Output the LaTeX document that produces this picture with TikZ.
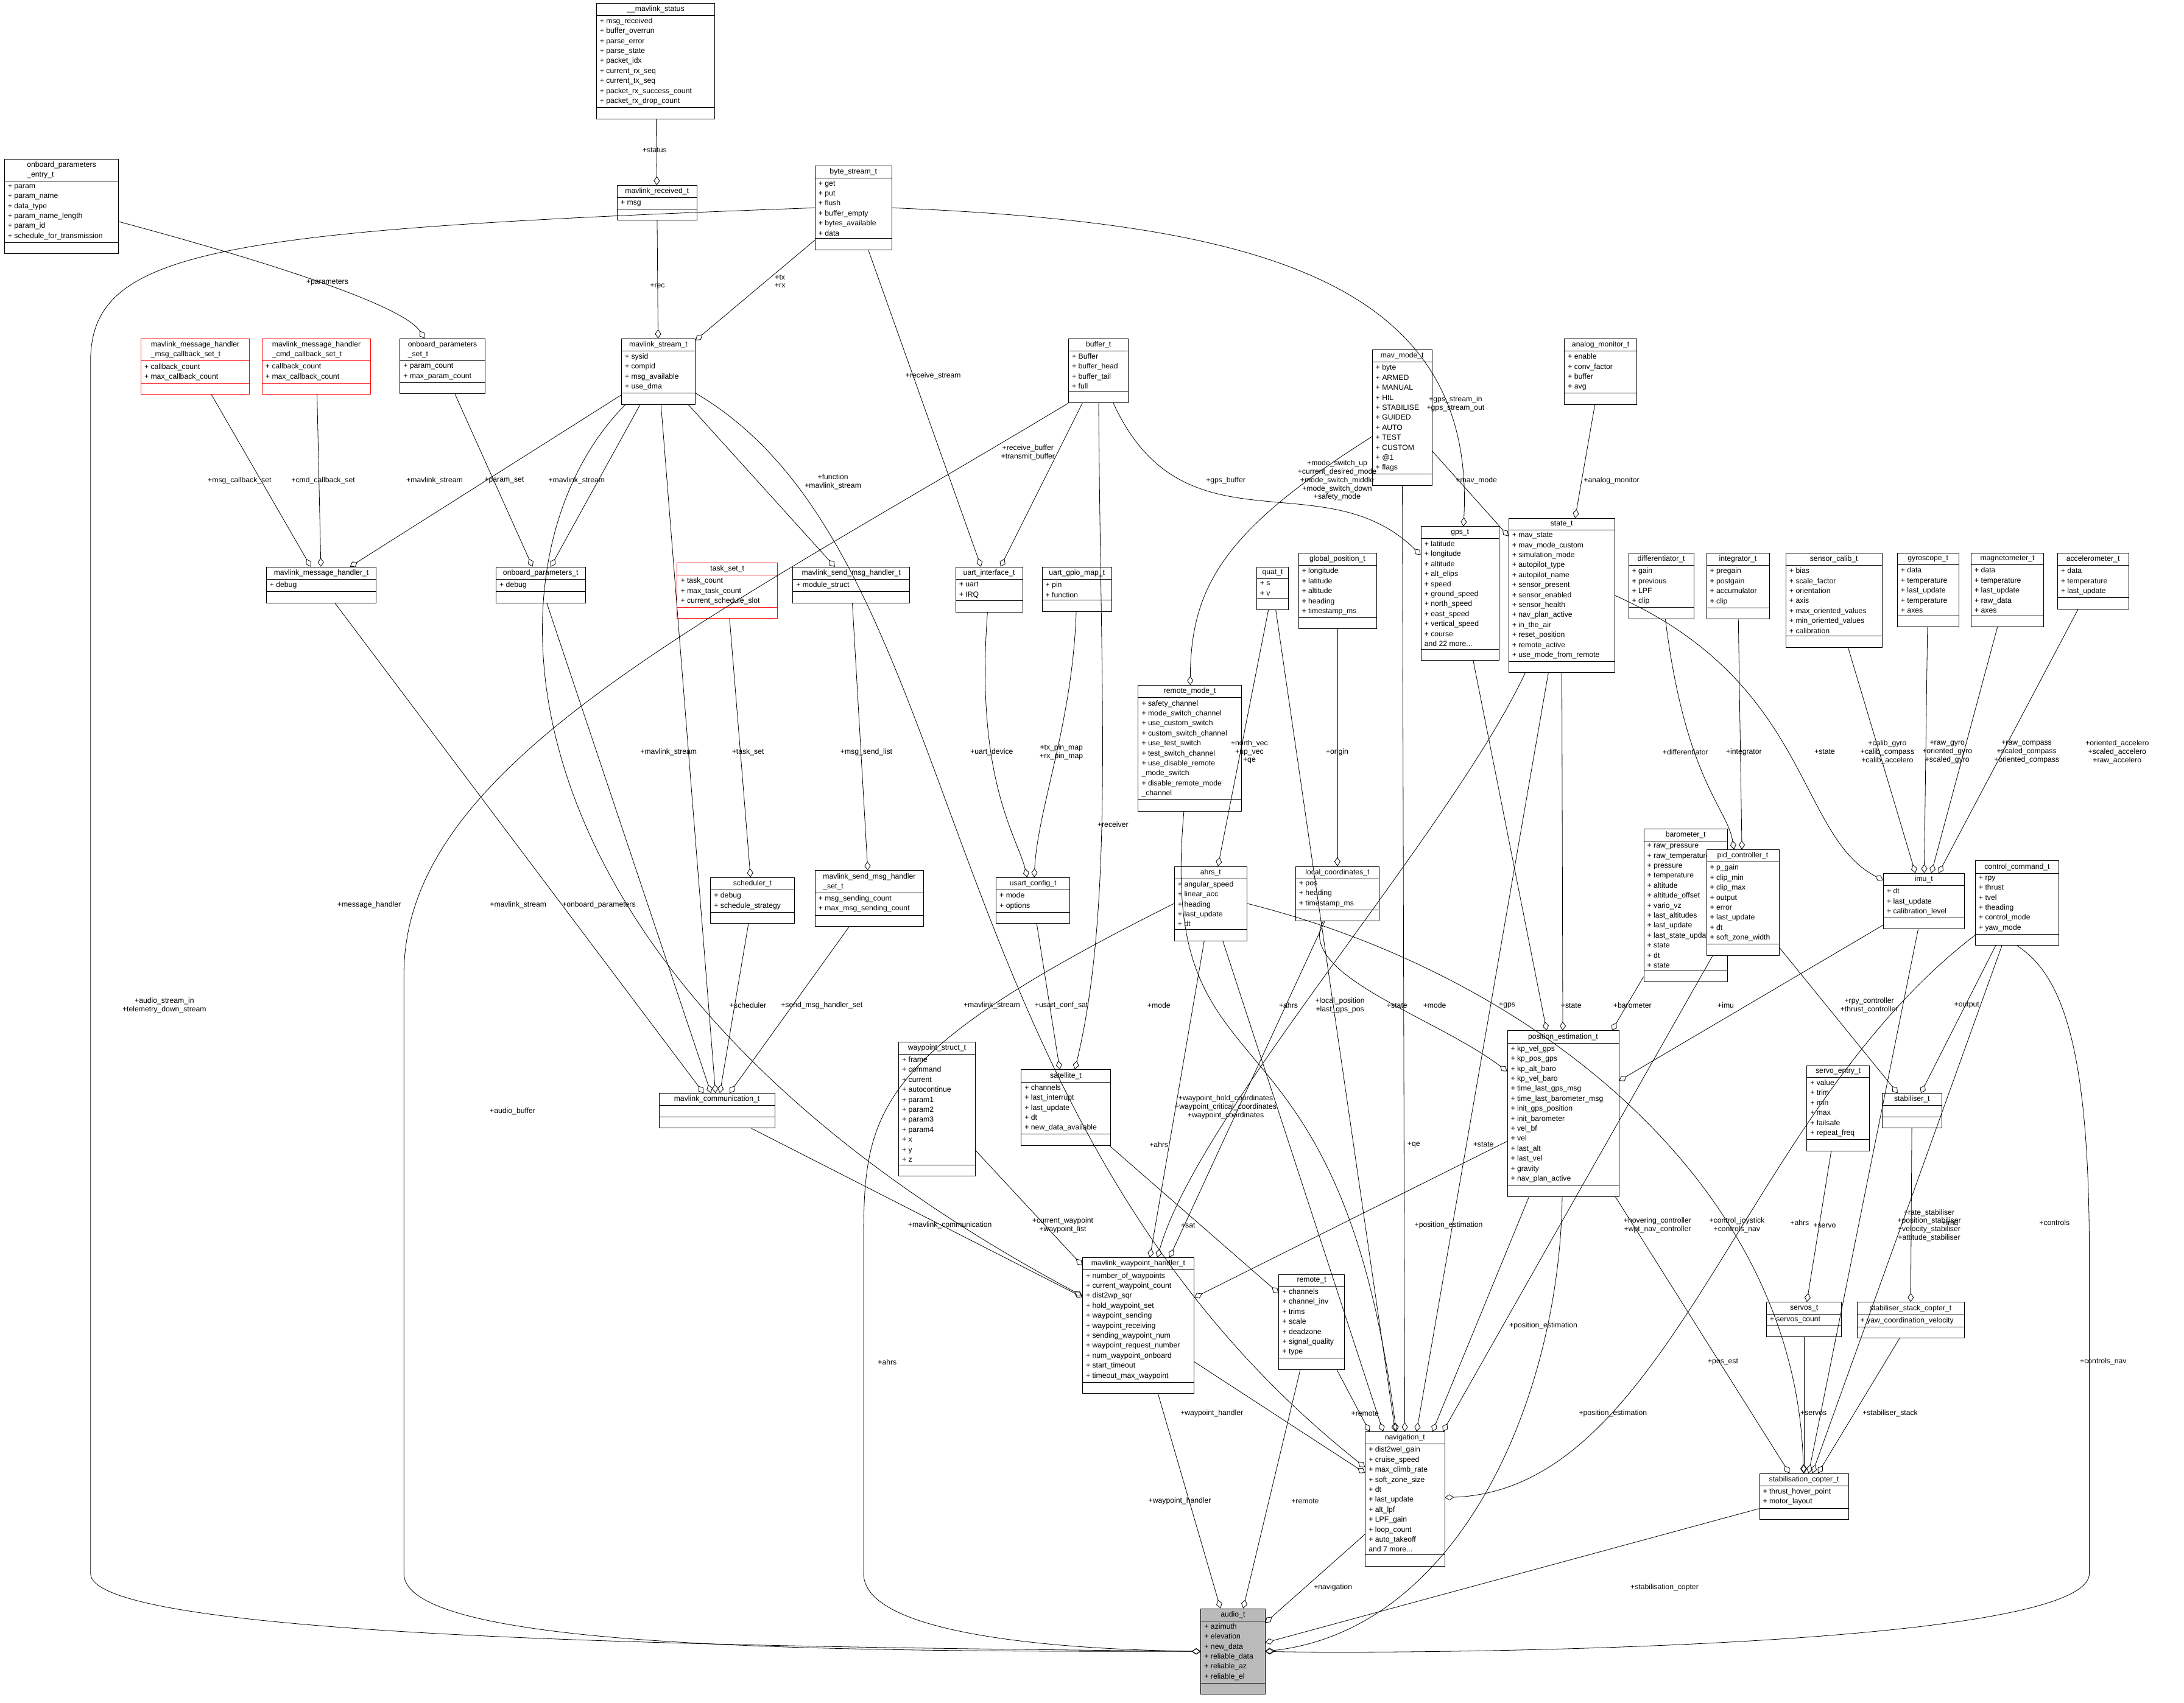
\documentclass[tikz,border=0pt]{standalone}
\usepackage{fontspec}
\setmainfont{Liberation Sans}
\usetikzlibrary{shapes.multipart,arrows.meta}
\AtBeginDocument{\catcode`\_=12}
\begin{document}
\begin{tikzpicture}[x=0.5mm,y=-0.5mm,
 cls/.style={draw=black,fill=white,rectangle split,rectangle split parts=3,anchor=north west,
   align=left,rectangle split part align={center,left,left},inner xsep=3.5pt,inner ysep=2.5pt,
   rectangle split empty part height=6pt,font=\fontsize{7.6pt}{10.2pt}\selectfont,line width=0.5pt},
 lbl/.style={align=center,font=\fontsize{7.6pt}{8.6pt}\selectfont,inner sep=0pt},
 as/.style={line width=0.5pt,-{Diamond[open,length=3.2mm,width=2.2mm]}}]
\useasboundingbox (0,0) rectangle (1568,1222.6);
\newcommand\cls[7][]{\node[cls,#1,minimum width=#5*0.5mm] (#2) at (#3,#4) {#6\nodepart{two}#7\nodepart{three}};}
% nodes
\cls{mst}{428}{2}{85}{__mavlink_status}{+ msg_received\\+ buffer_overrun\\+ parse_error\\+ parse_state\\+ packet_idx\\+ current_rx_seq\\+ current_tx_seq\\+ packet_rx_success_count\\+ packet_rx_drop_count}
\cls{mrec}{443}{133}{57}{mavlink_received_t}{+ msg}
\cls{ope}{3}{114}{82}{onboard_parameters\\_entry_t}{+ param\\+ param_name\\+ data_type\\+ param_name_length\\+ param_id\\+ schedule_for_transmission}
\cls{bst}{585}{119}{55}{byte_stream_t}{+ get\\+ put\\+ flush\\+ buffer_empty\\+ bytes_available\\+ data}
\cls{mstr}{446}{243}{53}{mavlink_stream_t}{+ sysid\\+ compid\\+ msg_available\\+ use_dma}
\cls[draw=red]{mcb}{101}{243}{78}{mavlink_message_handler\\_msg_callback_set_t}{+ callback_count\\+ max_callback_count}
\cls[draw=red]{ccb}{188}{243}{78}{mavlink_message_handler\\_cmd_callback_set_t}{+ callback_count\\+ max_callback_count}
\cls{ops}{287}{243}{61}{onboard_parameters\\_set_t}{+ param_count\\+ max_param_count}
\cls{buf}{767}{243}{43}{buffer_t}{+ Buffer\\+ buffer_head\\+ buffer_tail\\+ full}
\cls{mmode}{985}{251}{43}{mav_mode_t}{+ byte\\+ ARMED\\+ MANUAL\\+ HIL\\+ STABILISE\\+ GUIDED\\+ AUTO\\+ TEST\\+ CUSTOM\\+ @1\\+ flags}
\cls{anm}{1123}{243}{52}{analog_monitor_t}{+ enable\\+ conv_factor\\+ buffer\\+ avg}
\cls{mmh}{191}{407}{79}{mavlink_message_handler_t}{+ debug}
\cls{opt}{356}{407}{64}{onboard_parameters_t}{+ debug}
\cls[draw=red]{tset}{486}{404}{72}{task_set_t}{+ task_count\\+ max_task_count\\+ current_schedule_slot}
\cls{msmh}{569}{407}{84}{mavlink_send_msg_handler_t}{+ module_struct}
\cls{uif}{686}{407}{48}{uart_interface_t}{+ uart\\+ IRQ}
\cls{ugm}{748}{407}{50}{uart_gpio_map_t}{+ pin\\+ function}
\cls{quat}{902}{407}{23}{quat_t}{+ s\\+ v}
\cls{gpos}{932}{397}{56}{global_position_t}{+ longitude\\+ latitude\\+ altitude\\+ heading\\+ timestamp_ms}
\cls{gps}{1020}{378}{56}{gps_t}{+ latitude\\+ longitude\\+ altitude\\+ alt_elips\\+ speed\\+ ground_speed\\+ north_speed\\+ east_speed\\+ vertical_speed\\+ course\\and 22 more...}
\cls{state}{1083}{372}{76}{state_t}{+ mav_state\\+ mav_mode_custom\\+ simulation_mode\\+ autopilot_type\\+ autopilot_name\\+ sensor_present\\+ sensor_enabled\\+ sensor_health\\+ nav_plan_active\\+ in_the_air\\+ reset_position\\+ remote_active\\+ use_mode_from_remote}
\cls{diff}{1169}{397}{47}{differentiator_t}{+ gain\\+ previous\\+ LPF\\+ clip}
\cls{integ}{1225}{397}{45}{integrator_t}{+ pregain\\+ postgain\\+ accumulator\\+ clip}
\cls{scal}{1282}{397}{69}{sensor_calib_t}{+ bias\\+ scale_factor\\+ orientation\\+ axis\\+ max_oriented_values\\+ min_oriented_values\\+ calibration}
\cls{gyro}{1362}{397}{44}{gyroscope_t}{+ data\\+ temperature\\+ last_update\\+ temperature\\+ axes}
\cls{mag}{1415}{397}{52}{magnetometer_t}{+ data\\+ temperature\\+ last_update\\+ raw_data\\+ axes}
\cls{acc}{1477}{397}{51}{accelerometer_t}{+ data\\+ temperature\\+ last_update}
\cls{rmode}{817}{492}{74}{remote_mode_t}{+ safety_channel\\+ mode_switch_channel\\+ use_custom_switch\\+ custom_switch_channel\\+ use_test_switch\\+ test_switch_channel\\+ use_disable_remote\\_mode_switch\\+ disable_remote_mode\\_channel}
\cls{baro}{1180}{595}{60}{barometer_t}{+ raw_pressure\\+ raw_temperature\\+ pressure\\+ temperature\\+ altitude\\+ altitude_offset\\+ vario_vz\\+ last_altitudes\\+ last_update\\+ last_state_update\\+ state\\+ dt\\+ state}
\cls{sched}{510}{630}{60}{scheduler_t}{+ debug\\+ schedule_strategy}
\cls{msms}{585}{625}{78}{mavlink_send_msg_handler\\_set_t}{+ msg_sending_count\\+ max_msg_sending_count}
\cls{usart}{715}{630}{53}{usart_config_t}{+ mode\\+ options}
\cls{ahrs}{843}{622}{52}{ahrs_t}{+ angular_speed\\+ linear_acc\\+ heading\\+ last_update\\+ dt}
\cls{lcoord}{930}{622}{60}{local_coordinates_t}{+ pos\\+ heading\\+ timestamp_ms}
\cls{pid}{1225}{610}{52}{pid_controller_t}{+ p_gain\\+ clip_min\\+ clip_max\\+ output\\+ error\\+ last_update\\+ dt\\+ soft_zone_width}
\cls{imu}{1352}{627}{58}{imu_t}{+ dt\\+ last_update\\+ calibration_level}
\cls{ccmd}{1418}{618}{60}{control_command_t}{+ rpy\\+ thrust\\+ tvel\\+ theading\\+ control_mode\\+ yaw_mode}
\cls{mcom}{473}{785}{83}{mavlink_communication_t}{}
\cls{wps}{645}{748}{55}{waypoint_struct_t}{+ frame\\+ command\\+ current\\+ autocontinue\\+ param1\\+ param2\\+ param3\\+ param4\\+ x\\+ y\\+ z}
\cls{sat}{733}{768}{64}{satellite_t}{+ channels\\+ last_interrupt\\+ last_update\\+ dt\\+ new_data_available}
\cls{pest}{1082}{740}{80}{position_estimation_t}{+ kp_vel_gps\\+ kp_pos_gps\\+ kp_alt_baro\\+ kp_vel_baro\\+ time_last_gps_msg\\+ time_last_barometer_msg\\+ init_gps_position\\+ init_barometer\\+ vel_bf\\+ vel\\+ last_alt\\+ last_vel\\+ gravity\\+ nav_plan_active}
\cls{stab}{1351}{785}{43}{stabiliser_t}{}
\cls{sent}{1297}{765}{45}{servo_entry_t}{+ value\\+ trim\\+ min\\+ max\\+ failsafe\\+ repeat_freq}
\cls{mwh}{777}{903}{80}{mavlink_waypoint_handler_t}{+ number_of_waypoints\\+ current_waypoint_count\\+ dist2wp_sqr\\+ hold_waypoint_set\\+ waypoint_sending\\+ waypoint_receiving\\+ sending_waypoint_num\\+ waypoint_request_number\\+ num_waypoint_onboard\\+ start_timeout\\+ timeout_max_waypoint}
\cls{remote}{918}{915}{47}{remote_t}{+ channels\\+ channel_inv\\+ trims\\+ scale\\+ deadzone\\+ signal_quality\\+ type}
\cls{servos}{1268}{935}{54}{servos_t}{+ servos_count}
\cls{ssc}{1333}{935}{77}{stabiliser_stack_copter_t}{+ yaw_coordination_velocity}
\cls{nav}{980}{1028}{57}{navigation_t}{+ dist2wel_gain\\+ cruise_speed\\+ max_climb_rate\\+ soft_zone_size\\+ dt\\+ last_update\\+ alt_lpf\\+ LPF_gain\\+ loop_count\\+ auto_takeoff\\and 7 more...}
\cls{scop}{1263}{1058}{64}{stabilisation_copter_t}{+ thrust_hover_point\\+ motor_layout}
\cls[fill=black!27]{audio}{862}{1155}{46}{audio_t}{+ azimuth\\+ elevation\\+ new_data\\+ reliable_data\\+ reliable_az\\+ reliable_el}
% edges
\draw[as] (mst) -- (mrec);
\draw[as] (mrec) -- (mstr);
\draw[as] (bst) -- (mstr);
\draw[as] (ope) .. controls (200,190) and (290,220) .. (ops);
\draw[as] (bst) -- (uif);
\draw[as] (bst.east) .. controls (900,160) and (1060,200) .. (gps);
\draw[as] (bst.west) .. controls (150,165) and (65,180) .. (65,260) -- (65,1130) .. controls (65,1180) and (600,1183) .. (audio.west);
\draw[as] (mcb) -- (mmh);
\draw[as] (ccb) -- (mmh);
\draw[as] (mstr) -- (mmh);
\draw[as] (ops) -- (opt);
\draw[as] (mstr) -- (opt);
\draw[as] (mstr) -- (msmh);
\draw[as] (buf) -- (uif);
\draw[as] (buf) .. controls (850,400) and (950,330) .. (gps);
\draw[as] (buf.south west) .. controls (500,450) and (290,550) .. (290,700) -- (290,1130) .. controls (290,1185) and (600,1186) .. (audio.west);
\draw[as] (buf) .. controls (790,500) and (800,650) .. (sat);
\draw[as] (mmode) .. controls (880,380) and (855,420) .. (rmode);
\draw[as] (mmode) -- (state);
\draw[as] (mmode) -- (nav);
\draw[as] (anm) -- (state);
\draw[as] (tset) -- (sched);
\draw[as] (msmh) -- (msms);
\draw[as] (uif) .. controls (700,560) and (730,600) .. (usart);
\draw[as] (ugm) .. controls (770,520) and (745,580) .. (usart);
\draw[as] (quat) -- (ahrs);
\draw[as] (gpos) -- (lcoord);
\draw[as] (gps) -- (pest);
\draw[as] (state) -- (pest);
\draw[as] (state.east) .. controls (1300,490) and (1290,600) .. (imu);
\draw[as] (diff) .. controls (1210,560) and (1240,580) .. (pid);
\draw[as] (integ) -- (pid);
\draw[as] (scal) -- (imu);
\draw[as] (gyro) -- (imu);
\draw[as] (mag) -- (imu);
\draw[as] (acc) -- (imu);
\draw[as] (mmh) -- (mcom);
\draw[as] (opt) -- (mcom);
\draw[as] (mstr) -- (mcom);
\draw[as] (sched) -- (mcom);
\draw[as] (msms) -- (mcom);
\draw[as] (mstr) .. controls (340,400) and (345,700) .. (mwh);
\draw[as] (mstr) .. controls (700,400) and (660,800) .. (nav);
\draw[as] (usart) -- (sat);
\draw[as] (rmode) .. controls (830,800) and (960,700) .. (nav);
\draw[as] (ahrs.west) .. controls (620,760) and (620,800) .. (620,900) -- (620,1130) .. controls (620,1180) and (800,1185) .. (audio.west);
\draw[as] (ahrs) -- (mwh);
\draw[as] (ahrs) -- (nav);
\draw[as] (ahrs.east) .. controls (1100,700) and (1290,850) .. (scop);
\draw[as] (quat) -- (nav);
\draw[as] (lcoord) .. controls (930,700) and (1030,730) .. (pest);
\draw[as] (lcoord) -- (mwh);
\draw[as] (state) .. controls (1040,600) and (860,800) .. (mwh);
\draw[as] (state) -- (nav);
\draw[as] (baro) -- (pest);
\draw[as] (imu) -- (pest);
\draw[as] (pid) -- (nav);
\draw[as] (pid) -- (stab);
\draw[as] (ccmd) -- (stab);
\draw[as] (ccmd) .. controls (1250,800) and (1200,1070) .. (nav);
\draw[as] (ccmd) -- (scop);
\draw[as] (ccmd.south) .. controls (1480,700) and (1500,750) .. (1500,900) -- (1500,1130) .. controls (1500,1185) and (1000,1188) .. (audio.east);
\draw[as] (imu) -- (scop);
\draw[as] (sent) -- (servos);
\draw[as] (stab) -- (ssc);
\draw[as] (mcom) -- (mwh);
\draw[as] (wps) -- (mwh);
\draw[as] (sat) -- (remote);
\draw[as] (pest) -- (mwh);
\draw[as] (pest) -- (nav);
\draw[as] (pest) -- (scop);
\draw[as] (pest) .. controls (1120,1000) and (1050,1170) .. (audio.east);
\draw[as] (mwh) -- (nav);
\draw[as] (mwh) -- (audio);
\draw[as] (remote) -- (nav);
\draw[as] (remote) -- (audio);
\draw[as] (nav) -- (audio);
\draw[as] (servos) -- (scop);
\draw[as] (ssc) -- (scop);
\draw[as] (scop) -- (audio);
% labels
\node[lbl] (l1) at (470,108) {+status};
\node[lbl] (l2) at (472,205) {+rec};
\node[lbl] (l3) at (560,202) {+tx\\+rx};
\node[lbl] (l4) at (235,203) {+parameters};
\node[lbl] (l5) at (670,270) {+receive_stream};
\node[lbl] (l6) at (1045,290) {+gps_stream_in\\+gps_stream_out};
\node[lbl] (l7) at (118,722) {+audio_stream_in\\+telemetry_down_stream};
\node[lbl] (l8) at (172,345) {+msg_callback_set};
\node[lbl] (l9) at (232,345) {+cmd_callback_set};
\node[lbl] (l10) at (312,345) {+mavlink_stream};
\node[lbl] (l11) at (362,345) {+param_set};
\node[lbl] (l12) at (414,345) {+mavlink_stream};
\node[lbl] (l13) at (598,346) {+function\\+mavlink_stream};
\node[lbl] (l14) at (738,325) {+receive_buffer\\+transmit_buffer};
\node[lbl] (l15) at (880,345) {+gps_buffer};
\node[lbl] (l16) at (368,798) {+audio_buffer};
\node[lbl] (l17) at (799,592) {+receiver};
\node[lbl] (l18) at (960,345) {+mode_switch_up\\+current_desired_mode\\+mode_switch_middle\\+mode_switch_down\\+safety_mode};
\node[lbl] (l19) at (1060,345) {+mav_mode};
\node[lbl] (l20) at (1157,345) {+analog_monitor};
\node[lbl] (l21) at (537,540) {+task_set};
\node[lbl] (l22) at (622,540) {+msg_send_list};
\node[lbl] (l23) at (712,540) {+uart_device};
\node[lbl] (l24) at (762,540) {+tx_pin_map\\+rx_pin_map};
\node[lbl] (l25) at (897,540) {+north_vec\\+up_vec\\+qe};
\node[lbl] (l26) at (960,540) {+origin};
\node[lbl] (l27) at (1082,722) {+gps};
\node[lbl] (l28) at (1128,722) {+state};
\node[lbl] (l29) at (1310,540) {+state};
\node[lbl] (l30) at (1210,540) {+differentiator};
\node[lbl] (l31) at (1252,540) {+integrator};
\node[lbl] (l32) at (1355,540) {+calib_gyro\\+calib_compass\\+calib_accelero};
\node[lbl] (l33) at (1398,540) {+raw_gyro\\+oriented_gyro\\+scaled_gyro};
\node[lbl] (l34) at (1455,540) {+raw_compass\\+scaled_compass\\+oriented_compass};
\node[lbl] (l35) at (1520,540) {+oriented_accelero\\+scaled_accelero\\+raw_accelero};
\node[lbl] (l36) at (265,650) {+message_handler};
\node[lbl] (l37) at (430,650) {+onboard_parameters};
\node[lbl] (l38) at (480,540) {+mavlink_stream};
\node[lbl] (l39) at (537,722) {+scheduler};
\node[lbl] (l40) at (590,722) {+send_msg_handler_set};
\node[lbl] (l41) at (372,650) {+mavlink_stream};
\node[lbl] (l42) at (712,722) {+mavlink_stream};
\node[lbl] (l43) at (762,722) {+usart_conf_sat};
\node[lbl] (l44) at (832,722) {+mode};
\node[lbl] (l45) at (637,978) {+ahrs};
\node[lbl] (l46) at (832,822) {+ahrs};
\node[lbl] (l47) at (925,722) {+ahrs};
\node[lbl] (l48) at (1292,878) {+ahrs};
\node[lbl] (l49) at (1015,822) {+qe};
\node[lbl] (l50) at (962,722) {+local_position\\+last_gps_pos};
\node[lbl] (l51) at (880,795) {+waypoint_hold_coordinates\\+waypoint_critical_coordinates\\+waypoint_coordinates};
\node[lbl] (l52) at (1003,722) {+state};
\node[lbl] (l53) at (1030,722) {+mode};
\node[lbl] (l54) at (1065,822) {+state};
\node[lbl] (l55) at (1172,722) {+barometer};
\node[lbl] (l56) at (1239,722) {+imu};
\node[lbl] (l57) at (1190,880) {+hovering_controller\\+wpt_nav_controller};
\node[lbl] (l58) at (1342,722) {+rpy_controller\\+thrust_controller};
\node[lbl] (l59) at (1412,722) {+output};
\node[lbl] (l60) at (1247,880) {+control_joystick\\+controls_nav};
\node[lbl] (l61) at (1475,878) {+controls};
\node[lbl] (l62) at (1510,978) {+controls_nav};
\node[lbl] (l63) at (1400,878) {+imu};
\node[lbl] (l64) at (1310,880) {+servo};
\node[lbl] (l65) at (1385,880) {+rate_stabiliser\\+position_stabiliser\\+velocity_stabiliser\\+attitude_stabiliser};
\node[lbl] (l66) at (682,880) {+mavlink_communication};
\node[lbl] (l67) at (763,880) {+current_waypoint\\+waypoint_list};
\node[lbl] (l68) at (853,880) {+sat};
\node[lbl] (l69) at (1040,880) {+position_estimation};
\node[lbl] (l70) at (1108,952) {+position_estimation};
\node[lbl] (l71) at (1237,978) {+pos_est};
\node[lbl] (l72) at (1158,1015) {+position_estimation};
\node[lbl] (l73) at (870,1015) {+waypoint_handler};
\node[lbl] (l74) at (847,1078) {+waypoint_handler};
\node[lbl] (l75) at (980,1015) {+remote};
\node[lbl] (l76) at (937,1078) {+remote};
\node[lbl] (l77) at (957,1140) {+navigation};
\node[lbl] (l78) at (1302,1015) {+servos};
\node[lbl] (l79) at (1357,1015) {+stabiliser_stack};
\node[lbl] (l80) at (1195,1140) {+stabilisation_copter};
\end{tikzpicture}
\end{document}
